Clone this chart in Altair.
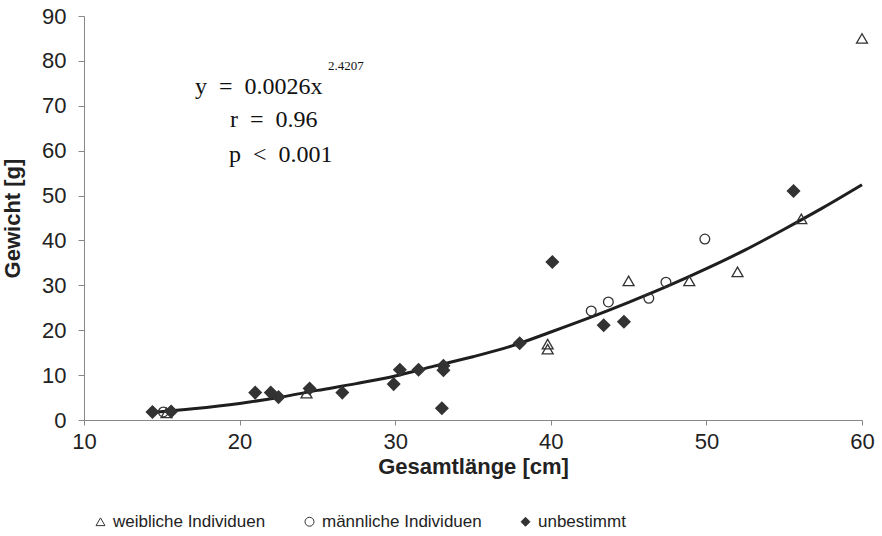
import altair as alt
import pandas as pd

# Data
w_x = [15.3, 24.3, 39.8, 39.8, 45.0, 48.9, 52.0, 56.1, 60.0]
w_y = [1.6, 6.0, 16.9, 15.8, 31.0, 31.0, 33.0, 44.8, 85.0]
m_x = [15.1, 42.6, 43.7, 46.3, 47.4, 49.9]
m_y = [1.8, 24.3, 26.3, 27.1, 30.7, 40.3]
u_x = [14.4, 15.6, 21.0, 22.0, 22.5, 24.5, 26.6, 29.9, 30.3, 31.5, 33.1, 33.1, 33.0,
       38.0, 40.1, 43.4, 44.7, 55.6]
u_y = [1.8, 1.9, 6.1, 6.1, 5.1, 7.0, 6.1, 8.0, 11.2, 11.2, 12.1, 11.1, 2.6,
       17.1, 35.2, 21.1, 21.9, 51.0]
curve_x = [14.5, 17, 20, 22.5, 25, 27.5, 30, 32.5, 35, 37.5, 40, 42.5, 45, 47.5,
           50, 52.5, 55, 57.5, 60]
curve_y = [1.7, 2.5, 3.7, 5.0, 6.6, 8.1, 9.8, 12.0, 14.1, 16.5, 19.6, 22.8, 26.2,
           29.8, 33.7, 37.9, 42.5, 47.3, 52.4]

groups = ["weibliche Individuen", "männliche Individuen", "unbestimmt"]
marker_sizes = [120, 95, 150]

rows = []
for x, y in zip(w_x, w_y):
    rows.append({"x": x, "y": y, "g": groups[0]})
for x, y in zip(m_x, m_y):
    rows.append({"x": x, "y": y, "g": groups[1]})
for x, y in zip(u_x, u_y):
    rows.append({"x": x, "y": y, "g": groups[2]})
pts = pd.DataFrame(rows)
curve = pd.DataFrame({"x": curve_x, "y": curve_y})

FONT = "Liberation Sans"
dark = "#333333"

xs = alt.Scale(domain=[10, 60], nice=False)
ys = alt.Scale(domain=[0, 90], nice=False)

xaxis = alt.Axis(values=[10, 20, 30, 40, 50, 60], grid=False, title="Gesamtlänge [cm]",
                 labelFontSize=22, titleFontSize=22, titleFontWeight="bold",
                 labelFont=FONT, titleFont=FONT, labelColor="#222", titleColor="#222",
                 domainColor="#888", tickColor="#888", tickSize=5, labelPadding=6,
                 labelFlush=False, titlePadding=4)
yaxis = alt.Axis(values=list(range(0, 91, 10)), grid=False, title="Gewicht [g]",
                 labelFontSize=22, titleFontSize=22, titleFontWeight="bold",
                 labelFont=FONT, titleFont=FONT, labelColor="#222", titleColor="#222",
                 domainColor="#888", tickColor="#888", tickSize=6, labelPadding=12,
                 labelFlush=False, titlePadding=17)

line = alt.Chart(curve).mark_line(color="#1e1e1e", strokeWidth=3, interpolate="monotone").encode(
    x=alt.X("x:Q", scale=xs, axis=xaxis),
    y=alt.Y("y:Q", scale=ys, axis=yaxis),
)

leg = alt.Legend(orient="none", legendX=8, legendY=497, direction="horizontal",
                 title=None, labelFont=FONT, labelFontSize=17,
                 labelColor="#222", symbolSize=80, columnPadding=35,
                 labelOffset=4, symbolStrokeWidth=1)

shape_enc = alt.Shape("g:N", scale=alt.Scale(domain=groups, range=["triangle-up", "circle", "diamond"]),
                      legend=leg)
fill_enc = alt.Fill("g:N", scale=alt.Scale(domain=groups, range=["transparent", "transparent", dark]),
                    legend=leg)
stroke_enc = alt.Stroke("g:N", scale=alt.Scale(domain=groups, range=[dark, dark, dark]), legend=leg)

point_layers = []
for grp, sz in zip(groups, marker_sizes):
    point_layers.append(
        alt.Chart(pts).transform_filter(alt.datum.g == grp)
        .mark_point(strokeWidth=1.3, opacity=1, size=sz)
        .encode(x=alt.X("x:Q", scale=xs), y=alt.Y("y:Q", scale=ys),
                shape=shape_enc, fill=fill_enc, stroke=stroke_enc)
    )

serif = "Liberation Serif"
sp = "\u2002"
eq = alt.Chart(pd.DataFrame({"t": ["y" + sp + "=" + sp + "0.0026x"]})).mark_text(
    font=serif, fontSize=24, align="left", baseline="alphabetic", color="#111"
).encode(text="t:N", x=alt.value(111), y=alt.value(78))
sup = alt.Chart(pd.DataFrame({"t": ["2.4207"]})).mark_text(
    font=serif, fontSize=13, align="left", baseline="alphabetic", color="#111"
).encode(text="t:N", x=alt.value(244), y=alt.value(54))
r_t = alt.Chart(pd.DataFrame({"t": ["r" + sp + "=" + sp + "0.96"]})).mark_text(
    font=serif, fontSize=24, align="left", baseline="alphabetic", color="#111"
).encode(text="t:N", x=alt.value(146), y=alt.value(111))
p_t = alt.Chart(pd.DataFrame({"t": ["p" + sp + "<" + sp + "0.001"]})).mark_text(
    font=serif, fontSize=24, align="left", baseline="alphabetic", color="#111"
).encode(text="t:N", x=alt.value(145), y=alt.value(146))

chart = alt.layer(line, *point_layers, eq, sup, r_t, p_t).properties(
    width=778, height=404,
    padding={"left": 84, "top": 16, "right": 20, "bottom": 116},
    autosize=alt.AutoSizeParams(type="none"),
    background="white",
).configure_view(stroke=None)

chart.save("out.html", embed_options={"renderer": "svg", "actions": False})
